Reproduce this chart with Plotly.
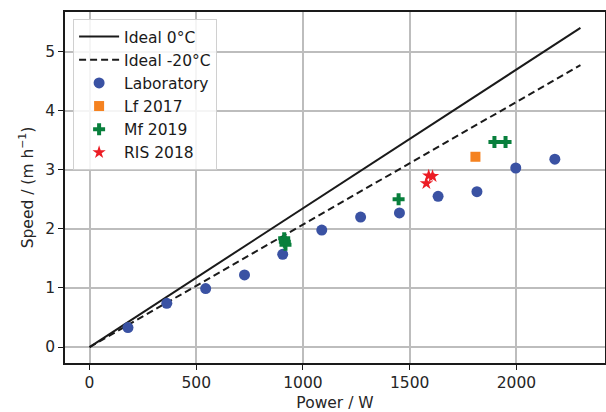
import plotly.graph_objects as go

# Ideal lines
ideal_power = [0, 2300]
ideal_0C = [0, 5.40]
ideal_m20C = [0, 4.77]

# Laboratory
lab_power = [180, 362, 544, 726, 905, 1088, 1270, 1452, 1633, 1815, 1997, 2180]
lab_speed = [0.33, 0.74, 0.99, 1.22, 1.57, 1.98, 2.20, 2.27, 2.55, 2.63, 3.03, 3.18]

# Lf 2017
lf_power = [1808]
lf_speed = [3.22]

# Mf 2019
mf_power = [912, 915, 918, 1448, 1897, 1949]
mf_speed = [1.84, 1.78, 1.73, 2.50, 3.47, 3.47]

# RIS 2018
ris_power = [1589, 1607, 1578]
ris_speed = [2.90, 2.89, 2.77]

font = "DejaVu Sans"
fs = 15.5
fig = go.Figure()
fig.add_trace(go.Scatter(x=ideal_power, y=ideal_0C, mode="lines", name="Ideal 0°C",
                         line=dict(color="#1a1a1a", width=2)))
fig.add_trace(go.Scatter(x=ideal_power, y=ideal_m20C, mode="lines", name="Ideal -20°C",
                         line=dict(color="#1a1a1a", width=2, dash="7px,4px")))
fig.add_trace(go.Scatter(x=lab_power, y=lab_speed, mode="markers", name="Laboratory",
                         marker=dict(color="#3a52a3", size=11, symbol="circle")))
fig.add_trace(go.Scatter(x=lf_power, y=lf_speed, mode="markers", name="Lf 2017",
                         marker=dict(color="#f58220", size=10, symbol="square")))
fig.add_trace(go.Scatter(x=mf_power, y=mf_speed, mode="markers", name="Mf 2019",
                         marker=dict(color="#087f3c", size=10, symbol="cross")))
fig.add_trace(go.Scatter(x=ris_power, y=ris_speed, mode="markers", name="RIS 2018",
                         marker=dict(color="#ec1c24", size=10, symbol="star")))

axis_common = dict(showline=True, linecolor="#1a1a1a", linewidth=1.5, mirror=True,
                   ticks="outside", ticklen=5, tickwidth=1.2, tickcolor="#1a1a1a",
                   showgrid=True, gridcolor="#bdbdbd", gridwidth=1.5, zeroline=False,
                   automargin=False,
                   tickfont=dict(family=font, size=fs, color="#262626"),
                   title_font=dict(family=font, size=fs, color="#262626"))

fig.update_layout(
    width=606, height=412,
    margin=dict(l=65, r=1, t=12, b=49),
    plot_bgcolor="white", paper_bgcolor="white",
    font=dict(family=font, size=fs, color="#262626"),
    xaxis=dict(range=[-115, 2415], tickvals=[0, 500, 1000, 1500, 2000],
               title=dict(text="Power / W", standoff=6), **axis_common),
    yaxis=dict(range=[-0.27, 5.67], tickvals=[0, 1, 2, 3, 4, 5],
               title=dict(text="Speed / (m h<sup>−1</sup>)", standoff=8), **axis_common),
    legend=dict(x=0.015, y=0.98, xanchor="left", yanchor="top",
                bgcolor="rgba(255,255,255,0.85)", bordercolor="#d0d0d0", borderwidth=1,
                font=dict(family=font, size=15.5, color="#1a1a1a"),
                itemwidth=40, tracegroupgap=0),
    showlegend=True,
)

fig.write_html("out.html", config={"displayModeBar": False},
               post_script="document.body.style.margin='0';document.body.style.overflow='hidden';")
